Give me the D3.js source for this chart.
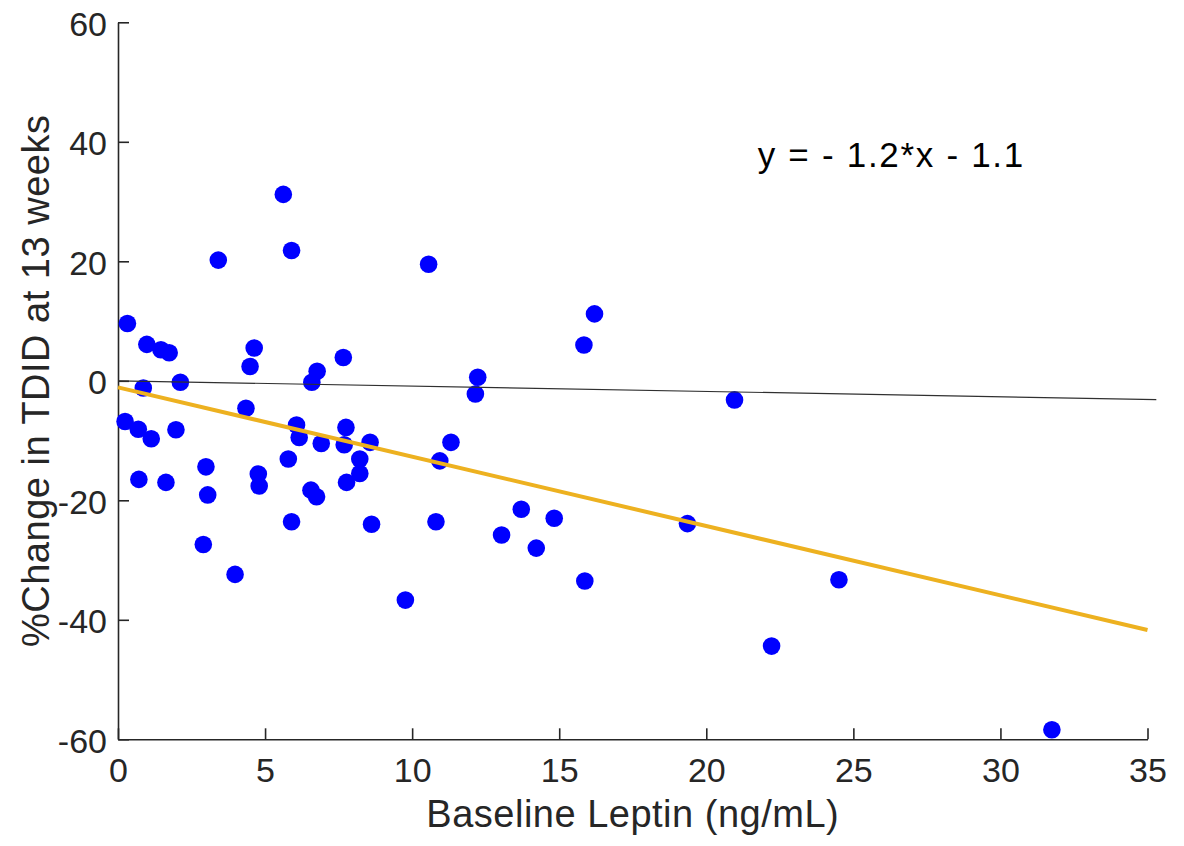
<!DOCTYPE html>
<html>
<head>
<meta charset="utf-8">
<script src="https://cdn.jsdelivr.net/npm/d3@7"></script>
<style>
  html, body { margin: 0; padding: 0; background: #fff; }
  svg { display: block; }
  .axis path, .axis line { stroke: #262626; stroke-width: 1.6; }
  .axis text { fill: #262626; font-family: "Liberation Sans", Arial, Helvetica, sans-serif; font-size: 34px; }
  .label { fill: #262626; font-family: "Liberation Sans", Arial, Helvetica, sans-serif; font-size: 38px; letter-spacing: 0.5px; }
  .equation { fill: #000; font-family: "Liberation Sans", Arial, Helvetica, sans-serif; font-size: 35px; letter-spacing: 1.7px; }
</style>
</head>
<body>
<svg id="canvas" width="1184" height="846"></svg>
<script>
// ── Data ──
const leptin = [
  5.62, 5.90, 3.41, 10.56, 16.20, 0.32, 0.98, 1.46, 1.74, 15.84,
  4.63, 4.49, 7.66, 6.77, 6.59, 2.12, 12.23, 0.86, 12.15, 20.96,
  4.35, 0.24, 0.69, 1.13, 1.97, 6.07, 6.16, 7.75, 6.91, 7.69,
  8.57, 11.32, 8.22, 5.79, 10.94, 2.99, 8.22, 4.77, 0.71, 1.63,
  7.77, 4.80, 6.56, 3.05, 6.75, 13.71, 14.83, 5.90, 10.81, 8.62,
  19.36, 13.04, 2.90, 14.22, 3.98, 15.87, 24.51, 9.77, 22.22, 31.75
];
const pctChange = [
  31.2, 21.8, 20.2, 19.5, 11.2, 9.6, 6.1, 5.2, 4.7, 6.0,
  5.5, 2.4, 3.9, 1.6, -0.25, -0.25, 0.6, -1.2, -2.2, -3.2,
  -4.6, -6.8, -8.1, -9.7, -8.2, -7.4, -9.5, -7.8, -10.5, -10.7,
  -10.3, -10.3, -13.1, -13.1, -13.4, -14.4, -15.5, -15.6, -16.5, -17.0,
  -17.0, -17.6, -18.3, -19.1, -19.4, -21.5, -23.0, -23.6, -23.6, -24.0,
  -23.9, -25.8, -27.4, -28.0, -32.4, -33.5, -33.3, -36.7, -44.4, -58.4
];

// fitted line and thin reference line (endpoints in data units)
const fitLine = [[0, -1.1], [35, -41.7]];
const refLine = [[0, 0], [35.3, -3.15]];

const xTicks = [0, 5, 10, 15, 20, 25, 30, 35];
const yTicks = [-60, -40, -20, 0, 20, 40, 60];
const equationText = "y = - 1.2*x - 1.1";
const equationPos = [21.75, 35.8];

const svg = d3.select("#canvas");

const x = d3.scaleLinear().domain([0, 35]).range([118, 1147.5]);
const y = d3.scaleLinear().domain([-60, 60]).range([739.3, 22.3]);

// plain hyphen for negatives, like the original
const fmt = d => String(d);

// ── Axes (MATLAB style, ticks pointing inward, no box) ──
svg.append("g")
    .attr("class", "axis")
    .attr("transform", `translate(0,${y(-60)})`)
    .call(d3.axisBottom(x).tickValues(xTicks).tickFormat(fmt)
        .tickSizeInner(-11).tickSizeOuter(0).tickPadding(19));

svg.append("g")
    .attr("class", "axis")
    .attr("transform", `translate(${x(0)},0)`)
    .call(d3.axisLeft(y).tickValues(yTicks).tickFormat(fmt)
        .tickSizeInner(-11).tickSizeOuter(0).tickPadding(11))
    .selectAll("text").attr("dy", "0.38em");

// ── Scatter points ──
const points = leptin.map((d, i) => ({ x: d, y: pctChange[i] }));

svg.append("g")
    .selectAll("circle")
    .data(points)
    .join("circle")
    .attr("cx", d => x(d.x))
    .attr("cy", d => y(d.y))
    .attr("r", 8.8)
    .attr("fill", "#0000ff");

// ── Lines ──
const line = d3.line().x(d => x(d[0])).y(d => y(d[1]));

svg.append("path")
    .datum(refLine)
    .attr("d", line)
    .attr("fill", "none")
    .attr("stroke", "#303030")
    .attr("stroke-width", 1.2);

svg.append("path")
    .datum(fitLine)
    .attr("d", line)
    .attr("fill", "none")
    .attr("stroke", "#edb120")
    .attr("stroke-width", 4);

// ── Labels ──
svg.append("text")
    .attr("class", "label")
    .attr("x", (x(0) + x(35)) / 2)
    .attr("y", 827)
    .attr("text-anchor", "middle")
    .text("Baseline Leptin (ng/mL)");

svg.append("text")
    .attr("class", "label")
    .attr("transform", `translate(49,${(y(-60) + y(60)) / 2}) rotate(-90)`)
    .attr("text-anchor", "middle")
    .text("%Change in TDID at 13 weeks");

svg.append("text")
    .attr("class", "equation")
    .attr("x", x(equationPos[0]))
    .attr("y", y(equationPos[1]))
    .text(equationText);
</script>
</body>
</html>
